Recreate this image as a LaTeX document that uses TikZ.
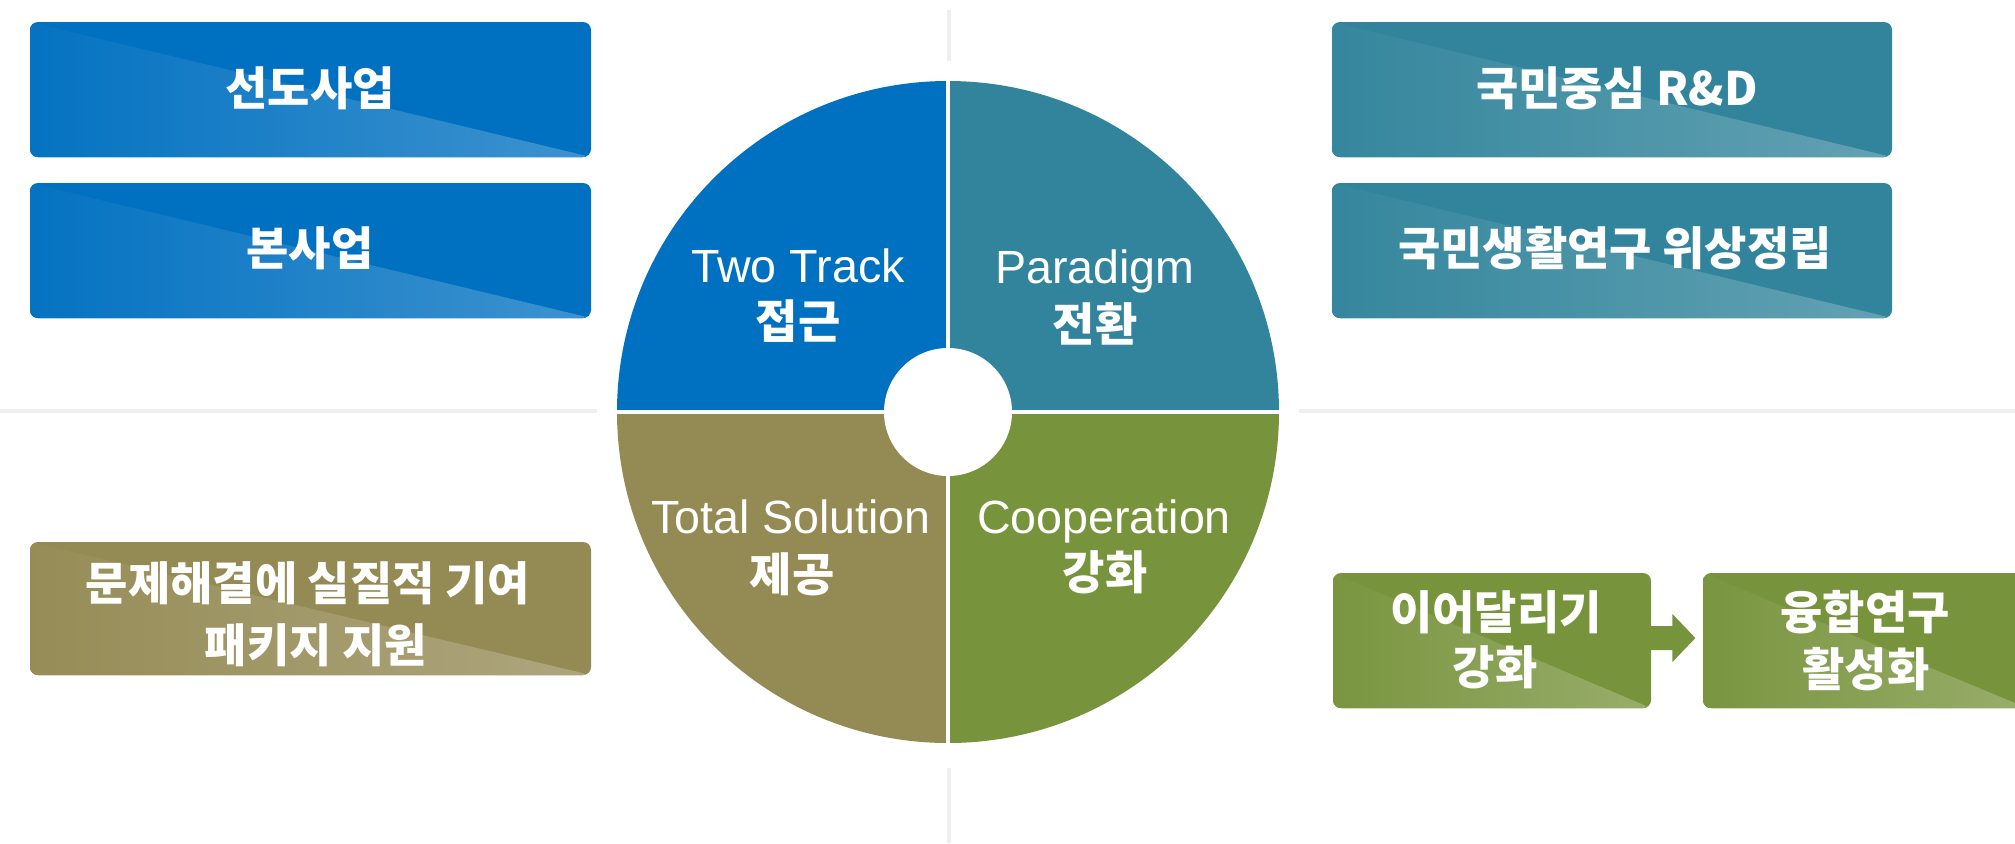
\documentclass[tikz,border=0pt]{standalone}
\usepackage{fontspec}
\setmainfont{Liberation Sans}
\newfontfamily\kr{Noto Sans CJK KR}
\usetikzlibrary{calc}
\definecolor{cblue}{HTML}{0070C0}
\definecolor{cteal}{HTML}{31849B}
\definecolor{colive}{HTML}{948A54}
\definecolor{cgreen}{HTML}{77933C}
\definecolor{cdiv}{HTML}{EFEFEF}
\tikzset{
  panel/.style={rectangle, rounded corners=4pt, fill=#1, inner sep=0pt,
    path picture={\fill[left color=#1!98!white, right color=#1!76!white]
      (path picture bounding box.north west) -- (path picture bounding box.south east)
      -- (path picture bounding box.south west) -- cycle;}},
  hangul/.style={text=white, font=\kr\bfseries\fontsize{23pt}{27pt}\selectfont, inner sep=0pt},
  latin/.style={text=white, font=\fontsize{23.3pt}{27pt}\selectfont, inner sep=0pt, anchor=base},
  divider/.style={draw=cdiv, line width=2pt},
  gap/.style={draw=white, line width=2pt}
}
\begin{document}
\begin{tikzpicture}[x=0.5pt,y=-0.5pt]
\useasboundingbox (0,0) rectangle (2015,843);

% dividers
\draw[divider] (949,10) -- (949,61);
\draw[divider] (949,768) -- (949,843);
\draw[divider] (0,411) -- (597,411);
\draw[divider] (1299,411) -- (2015,411);

% left boxes
\node[panel=cblue, minimum width=280.5pt, minimum height=67.5pt] (b1) at (310.5,89.5) {};
\node[panel=cblue, minimum width=280.5pt, minimum height=67.5pt] (b2) at (310.5,250.5) {};
\node[panel=colive, minimum width=280.5pt, minimum height=66.5pt] (b3) at (310.5,608.5) {};
\node[hangul] (t1) at (310,88) {선도사업};
\node[hangul] (t2) at (310,248) {본사업};
\node[hangul] (t3a) at (308,583.5) {문제해결에 실질적 기여};
\node[hangul] (t3b) at (316,645) {패키지 지원};

% right boxes
\node[panel=cteal, minimum width=280pt, minimum height=67.5pt] (r1) at (1612,89.5) {};
\node[panel=cteal, minimum width=280pt, minimum height=67.5pt] (r2) at (1612,250.5) {};
\node[hangul] (rt1) at (1617,88) {국민중심 R\&D};
\node[hangul] (rt2) at (1615,248) {국민생활연구 위상정립};

% green boxes
\node[panel=cgreen, minimum width=159pt, minimum height=67.5pt] (g1) at (1492,640.5) {};
\node[panel=cgreen, minimum width=162pt, minimum height=67.5pt] (g2) at (1865,640.5) {};
\node[hangul] (gt1a) at (1496,612) {이어달리기};
\node[hangul] (gt1b) at (1495,667.5) {강화};
\node[hangul] (gt2a) at (1865,612.5) {융합연구};
\node[hangul] (gt2b) at (1866,669) {활성화};

% block arrow g1 -> g2
\coordinate (ac) at (g1.east |- 0,638);
\fill[cgreen] ($(ac)+(-6,-12)$) -- ($(ac)+(21,-12)$) -- ($(ac)+(21,-24)$)
  -- ($(ac)+(44,0)$) -- ($(ac)+(21,24)$) -- ($(ac)+(21,12)$) -- ($(ac)+(-6,12)$) -- cycle;

% circle
\coordinate (C) at (948,412);
\fill[cblue] (C) -- ++(-165.5pt,0pt) arc[start angle=180,end angle=90,radius=165.5pt] -- cycle;
\fill[cteal] (C) -- ++(0pt,165.5pt) arc[start angle=90,end angle=0,radius=165.5pt] -- cycle;
\fill[cgreen] (C) -- ++(165.5pt,0pt) arc[start angle=0,end angle=-90,radius=165.5pt] -- cycle;
\fill[colive] (C) -- ++(0pt,-165.5pt) arc[start angle=-90,end angle=-180,radius=165.5pt] -- cycle;
\draw[gap] ($(C)+(-168pt,0pt)$) -- ($(C)+(168pt,0pt)$);
\draw[gap] ($(C)+(0pt,-168pt)$) -- ($(C)+(0pt,168pt)$);
\fill[white] (C) circle[radius=32pt];

% circle labels
\node[latin] (q1a) at (798,282) {Two Track};
\node[hangul] (q1b) at (798,321.5) {접근};
\node[latin] (q2a) at (1095,283) {Paradigm};
\node[hangul] (q2b) at (1095,324) {전환};
\node[latin] (q3a) at (791,533) {Total Solution};
\node[hangul] (q3b) at (792,574.5) {제공};
\node[latin] (q4a) at (1104,533) {Cooperation};
\node[hangul] (q4b) at (1105,572.5) {강화};
\end{tikzpicture}
\end{document}
